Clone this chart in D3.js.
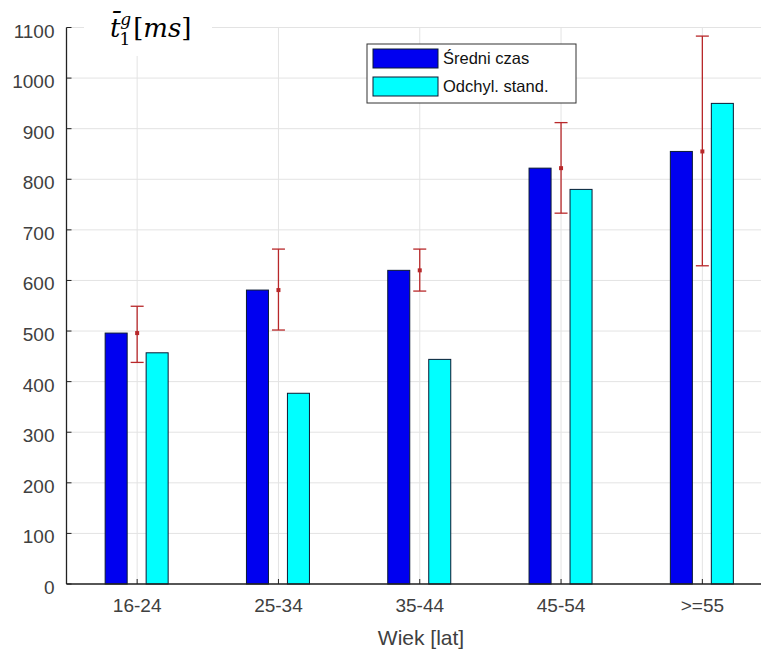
<!DOCTYPE html>
<html><head><meta charset="utf-8">
<script src="https://cdn.jsdelivr.net/npm/d3@7"></script>
<style>body{margin:0;background:#fff}svg{display:block}</style>
</head><body><svg id="c" width="761" height="653"></svg>
<script>
const categories = ["16-24","25-34","35-44","45-54",">=55"];
const meanTime = [496, 581, 620, 822, 855];
const stdDev = [457, 377, 444, 780, 950];
const errLow = [58, 79, 41, 89, 226];
const errHigh = [53, 81, 42, 90, 228];
const yTicks = [0,100,200,300,400,500,600,700,800,900,1000,1100];
const seriesNames = ["Średni czas","Odchyl. stand."];
const seriesColors = ["#0000f0","#00ffff"];

const svg = d3.select("#c");
const x0 = 66.5, yBottom = 584, yTop = 27.5;
const x = d3.scaleBand().domain(categories).range([x0, x0 + 5*141.3]).padding(0);
const inner = d3.scaleBand().domain([0,1]).range([-32, 31]).paddingInner(0.463).paddingOuter(0);
const y = d3.scaleLinear().domain([0,1100]).range([yBottom, yTop]);
const font = "'Liberation Sans', Arial, sans-serif";
const txtCol = "#404040";

// grid
const g = svg.append("g");
g.selectAll("line.h").data(yTicks).join("line")
  .attr("x1", x0).attr("x2", 761).attr("y1", d=>y(d)).attr("y2", d=>y(d))
  .attr("stroke","#e3e3e3").attr("stroke-width",1);
g.selectAll("line.v").data(categories).join("line")
  .attr("x1", d=>x(d)+x.bandwidth()/2).attr("x2", d=>x(d)+x.bandwidth()/2)
  .attr("y1", yTop).attr("y2", yBottom)
  .attr("stroke","#e3e3e3").attr("stroke-width",1);

// bars
const series = [meanTime, stdDev];
series.forEach((vals, si) => {
  svg.append("g").selectAll("rect").data(categories).join("rect")
    .attr("x", (d)=> x(d) + x.bandwidth()/2 + inner(si))
    .attr("width", inner.bandwidth())
    .attr("y", (d,i)=> y(vals[i]))
    .attr("height", (d,i)=> y(0) - y(vals[i]))
    .attr("fill", seriesColors[si]).attr("stroke","#0a1a33").attr("stroke-width",1);
});

// error bars
const ec = "#b8282a";
const eg = svg.append("g");
categories.forEach((c,i)=>{
  const cx = x(c)+x.bandwidth()/2;
  const t = y(meanTime[i]+errHigh[i]), b = y(meanTime[i]-errLow[i]), m = y(meanTime[i]);
  eg.append("line").attr("x1",cx).attr("x2",cx).attr("y1",t).attr("y2",b).attr("stroke",ec).attr("stroke-width",1.3);
  eg.append("line").attr("x1",cx-6.5).attr("x2",cx+6.5).attr("y1",t).attr("y2",t).attr("stroke",ec).attr("stroke-width",1.3);
  eg.append("line").attr("x1",cx-6.5).attr("x2",cx+6.5).attr("y1",b).attr("y2",b).attr("stroke",ec).attr("stroke-width",1.3);
  eg.append("rect").attr("x",cx-2).attr("y",m-2).attr("width",4).attr("height",4).attr("fill",ec);
});

// axes
const ax = svg.append("g").attr("transform",`translate(0,${yBottom})`)
  .call(d3.axisBottom(x).tickSize(0).tickPadding(15));
ax.select(".domain").remove();
ax.selectAll("text").attr("font-family",font).attr("font-size",19).attr("fill",txtCol);
svg.append("line").attr("x1",x0).attr("x2",761).attr("y1",yBottom).attr("y2",yBottom).attr("stroke","#222").attr("stroke-width",1.3);
svg.append("g").selectAll("line").data(categories).join("line")
  .attr("x1",d=>x(d)+x.bandwidth()/2).attr("x2",d=>x(d)+x.bandwidth()/2)
  .attr("y1",yBottom).attr("y2",yBottom-5).attr("stroke","#222");

const ay = svg.append("g").attr("transform",`translate(${x0},0)`)
  .call(d3.axisLeft(y).tickValues(yTicks).tickFormat(d3.format("d")).tickSize(0).tickPadding(12));
ay.select(".domain").remove();
ay.selectAll("text").attr("font-family",font).attr("font-size",19).attr("fill",txtCol).attr("dy","0.5em");
svg.append("line").attr("x1",x0).attr("x2",x0).attr("y1",yTop).attr("y2",yBottom).attr("stroke","#222").attr("stroke-width",1.3);
svg.append("g").selectAll("line").data(yTicks).join("line")
  .attr("x1",x0).attr("x2",x0+5).attr("y1",d=>y(d)).attr("y2",d=>y(d)).attr("stroke","#222");

svg.append("text").attr("x",421).attr("y",645).attr("text-anchor","middle")
  .attr("font-family",font).attr("font-size",21).attr("fill",txtCol).text("Wiek [lat]");

// y label
svg.append("rect").attr("x",84).attr("y",0).attr("width",128).attr("height",56).attr("fill","#fff");
const lab = svg.append("text").attr("x",110).attr("y",37).attr("font-family","'DejaVu Serif','Liberation Serif',serif").attr("font-size",26).attr("fill","#000");
lab.append("tspan").attr("font-style","italic").text("t\u0304");
lab.append("tspan").attr("font-size",17).attr("dy",8).attr("dx",-1).text("1");
lab.append("tspan").attr("font-style","italic").attr("font-size",17).attr("dy",-20).attr("dx",-10).text("g");
lab.append("tspan").attr("dy",12).attr("dx",2).text("[");
lab.append("tspan").attr("font-style","italic").text("ms");
lab.append("tspan").text("]");

// legend
const lg = svg.append("g");
lg.append("rect").attr("x",367).attr("y",44).attr("width",209).attr("height",59).attr("fill","#fff").attr("stroke","#333").attr("stroke-width",1);
seriesNames.forEach((n,i)=>{
  lg.append("rect").attr("x",373).attr("y",49+i*28).attr("width",65).attr("height",19)
    .attr("fill",seriesColors[i]).attr("stroke","#0a1a33");
  lg.append("text").attr("x",443).attr("y",64+i*28).attr("font-family",font).attr("font-size",16.5).attr("fill","#111").text(n);
});
</script></body></html>
